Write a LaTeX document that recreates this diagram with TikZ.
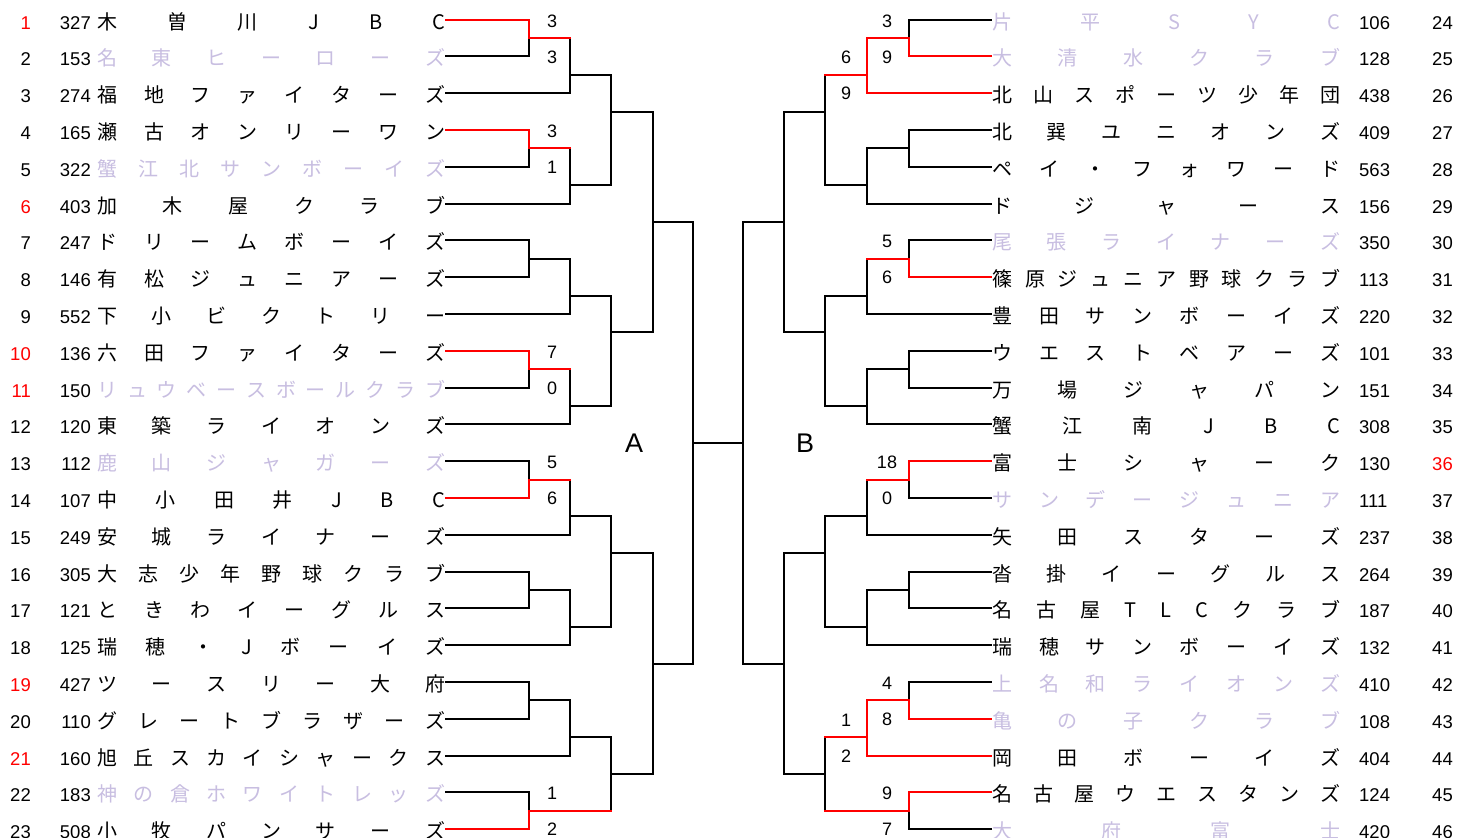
\documentclass[tikz,border=0pt]{standalone}
\usepackage{fontspec}
\setmainfont{Liberation Sans}
\newfontfamily\jp{Noto Sans CJK JP}
\definecolor{lav}{RGB}{200,190,225}
\definecolor{winred}{RGB}{255,0,0}
\makeatletter
\def\spr@loop#1{\ifx#1\@nil\else\hfill#1\expandafter\spr@loop\fi}
\def\spr@first#1{#1\spr@loop}
\newcommand\spreadname[1]{\spr@first#1\@nil}
\makeatother
\tikzset{
 ln/.style={line width=2pt, black, line cap=rect},
 win/.style={line width=2pt, winred, line cap=rect},
 idx/.style={inner sep=0pt, font=\fontsize{18.5}{20}\selectfont},
 tname/.style={inner sep=0pt, font=\jp\fontsize{20}{24}\selectfont},
 score/.style={inner sep=0pt, font=\fontsize{18}{20}\selectfont},
 side/.style={inner sep=0pt, font=\fontsize{27}{30}\selectfont},
}
% left team: row, index colour, code, name, name colour
\newcommand\teamL[5]{%
  \node[idx, text=#2, anchor=base east] (iL#1) at (31,{Y(#1)+9.5}) {#1};
  \node[idx, anchor=base east] (cL#1) at (91,{Y(#1)+9.5}) {#3};
  \node[tname, text=#5, anchor=base west] (nL#1) at (97,{Y(#1)+9.5}) {\makebox[348pt]{\spreadname{#4}}};
  \coordinate (tL#1) at (446,{Y(#1)});
}
% right team: local row, number, index colour, code, name, name colour
\newcommand\teamR[6]{%
  \node[tname, text=#6, anchor=base west] (nR#2) at (992,{Y(#1)+9.5}) {\makebox[348pt]{\spreadname{#5}}};
  \node[idx, anchor=base west] (cR#2) at (1359,{Y(#1)+9.5}) {#4};
  \node[idx, text=#3, anchor=base east] (iR#2) at (1453,{Y(#1)+9.5}) {#2};
  \coordinate (tR#2) at (991,{Y(#1)});
}
\begin{document}
\begin{tikzpicture}[x=1pt,y=-1pt, declare function={Y(\r)=19.5+36.8*(\r-1);}]
\useasboundingbox (0,0) rectangle (1457,838);
\fill[white] (0,0) rectangle (1457,838);

\teamL{1}{winred}{327}{木曽川JBC}{black}
\teamL{2}{black}{153}{名東ヒーローズ}{lav}
\teamL{3}{black}{274}{福地ファイターズ}{black}
\teamL{4}{black}{165}{瀬古オンリーワン}{black}
\teamL{5}{black}{322}{蟹江北サンボーイズ}{lav}
\teamL{6}{winred}{403}{加木屋クラブ}{black}
\teamL{7}{black}{247}{ドリームボーイズ}{black}
\teamL{8}{black}{146}{有松ジュニアーズ}{black}
\teamL{9}{black}{552}{下小ビクトリー}{black}
\teamL{10}{winred}{136}{六田ファイターズ}{black}
\teamL{11}{winred}{150}{リュウベースボールクラブ}{lav}
\teamL{12}{black}{120}{東築ライオンズ}{black}
\teamL{13}{black}{112}{鹿山ジャガーズ}{lav}
\teamL{14}{black}{107}{中小田井JBC}{black}
\teamL{15}{black}{249}{安城ライナーズ}{black}
\teamL{16}{black}{305}{大志少年野球クラブ}{black}
\teamL{17}{black}{121}{ときわイーグルス}{black}
\teamL{18}{black}{125}{瑞穂・Jボーイズ}{black}
\teamL{19}{winred}{427}{ツースリー大府}{black}
\teamL{20}{black}{110}{グレートブラザーズ}{black}
\teamL{21}{winred}{160}{旭丘スカイシャークス}{black}
\teamL{22}{black}{183}{神の倉ホワイトレッズ}{lav}
\teamL{23}{black}{508}{小牧パンサーズ}{black}

\teamR{1}{24}{black}{106}{片平SYC}{lav}
\teamR{2}{25}{black}{128}{大清水クラブ}{lav}
\teamR{3}{26}{black}{438}{北山スポーツ少年団}{black}
\teamR{4}{27}{black}{409}{北巽ユニオンズ}{black}
\teamR{5}{28}{black}{563}{ペイ・フォワード}{black}
\teamR{6}{29}{black}{156}{ドジャース}{black}
\teamR{7}{30}{black}{350}{尾張ライナーズ}{lav}
\teamR{8}{31}{black}{113}{篠原ジュニア野球クラブ}{black}
\teamR{9}{32}{black}{220}{豊田サンボーイズ}{black}
\teamR{10}{33}{black}{101}{ウエストベアーズ}{black}
\teamR{11}{34}{black}{151}{万場ジャパン}{black}
\teamR{12}{35}{black}{308}{蟹江南JBC}{black}
\teamR{13}{36}{winred}{130}{富士シャーク}{black}
\teamR{14}{37}{black}{111}{サンデージュニア}{lav}
\teamR{15}{38}{black}{237}{矢田スターズ}{black}
\teamR{16}{39}{black}{264}{沓掛イーグルス}{black}
\teamR{17}{40}{black}{187}{名古屋TLCクラブ}{black}
\teamR{18}{41}{black}{132}{瑞穂サンボーイズ}{black}
\teamR{19}{42}{black}{410}{上名和ライオンズ}{lav}
\teamR{20}{43}{black}{108}{亀の子クラブ}{lav}
\teamR{21}{44}{black}{404}{岡田ボーイズ}{black}
\teamR{22}{45}{black}{124}{名古屋ウエスタンズ}{black}
\teamR{23}{46}{black}{420}{大府富士}{lav}

% left junctions
\coordinate (jL1) at (528.5,{Y(1.5)});
\coordinate (jL2) at (569.5,{Y(2.5)});
\coordinate (jL3) at (528.5,{Y(4.5)});
\coordinate (jL4) at (569.5,{Y(5.5)});
\coordinate (jL5) at (611,{Y(3.5)});
\coordinate (jL6) at (528.5,{Y(7.5)});
\coordinate (jL7) at (569.5,{Y(8.5)});
\coordinate (jL8) at (528.5,{Y(10.5)});
\coordinate (jL9) at (569.5,{Y(11.5)});
\coordinate (jL10) at (611,{Y(9.5)});
\coordinate (jL11) at (652.5,{Y(6.5)});
\coordinate (jL12) at (528.5,{Y(13.5)});
\coordinate (jL13) at (569.5,{Y(14.5)});
\coordinate (jL14) at (528.5,{Y(16.5)});
\coordinate (jL15) at (569.5,{Y(17.5)});
\coordinate (jL16) at (611,{Y(15.5)});
\coordinate (jL17) at (528.5,{Y(19.5)});
\coordinate (jL18) at (569.5,{Y(20.5)});
\coordinate (jL19) at (528.5,{Y(22.5)});
\coordinate (jL20) at (611,{Y(21.5)});
\coordinate (jL21) at (652.5,{Y(18.5)});
\coordinate (jC) at (693,{Y(12.5)});
\coordinate (jD) at (743,{Y(12.5)});
% right junctions
\coordinate (jR1) at (908.5,{Y(1.5)});
\coordinate (jR2) at (866.5,{Y(2.5)});
\coordinate (jR3) at (908.5,{Y(4.5)});
\coordinate (jR4) at (866.5,{Y(5.5)});
\coordinate (jR5) at (825,{Y(3.5)});
\coordinate (jR6) at (908.5,{Y(7.5)});
\coordinate (jR7) at (866.5,{Y(8.5)});
\coordinate (jR8) at (908.5,{Y(10.5)});
\coordinate (jR9) at (866.5,{Y(11.5)});
\coordinate (jR10) at (825,{Y(9.5)});
\coordinate (jR11) at (783.5,{Y(6.5)});
\coordinate (jR12) at (908.5,{Y(13.5)});
\coordinate (jR13) at (866.5,{Y(14.5)});
\coordinate (jR14) at (908.5,{Y(16.5)});
\coordinate (jR15) at (866.5,{Y(17.5)});
\coordinate (jR16) at (825,{Y(15.5)});
\coordinate (jR17) at (908.5,{Y(19.5)});
\coordinate (jR18) at (866.5,{Y(20.5)});
\coordinate (jR19) at (908.5,{Y(22.5)});
\coordinate (jR20) at (825,{Y(21.5)});
\coordinate (jR21) at (783.5,{Y(18.5)});

% black bracket, A side
\draw[ln] (tL1) -| (jL1) (tL2) -| (jL1) (jL1) -| (jL2) (tL3) -| (jL2) (jL2) -| (jL5)
          (tL4) -| (jL3) (tL5) -| (jL3) (jL3) -| (jL4) (tL6) -| (jL4) (jL4) -| (jL5) (jL5) -| (jL11)
          (tL7) -| (jL6) (tL8) -| (jL6) (jL6) -| (jL7) (tL9) -| (jL7) (jL7) -| (jL10)
          (tL10) -| (jL8) (tL11) -| (jL8) (jL8) -| (jL9) (tL12) -| (jL9) (jL9) -| (jL10) (jL10) -| (jL11)
          (jL11) -| (jC)
          (tL13) -| (jL12) (tL14) -| (jL12) (jL12) -| (jL13) (tL15) -| (jL13) (jL13) -| (jL16)
          (tL16) -| (jL14) (tL17) -| (jL14) (jL14) -| (jL15) (tL18) -| (jL15) (jL15) -| (jL16) (jL16) -| (jL21)
          (tL19) -| (jL17) (tL20) -| (jL17) (jL17) -| (jL18) (tL21) -| (jL18) (jL18) -| (jL20)
          (tL22) -| (jL19) (tL23) -| (jL19) (jL19) -| (jL20) (jL20) -| (jL21) (jL21) -| (jC)
          (jC) -- (jD);
% black bracket, B side
\draw[ln] (tR24) -| (jR1) (tR25) -| (jR1) (jR1) -| (jR2) (tR26) -| (jR2) (jR2) -| (jR5)
          (tR27) -| (jR3) (tR28) -| (jR3) (jR3) -| (jR4) (tR29) -| (jR4) (jR4) -| (jR5) (jR5) -| (jR11)
          (tR30) -| (jR6) (tR31) -| (jR6) (jR6) -| (jR7) (tR32) -| (jR7) (jR7) -| (jR10)
          (tR33) -| (jR8) (tR34) -| (jR8) (jR8) -| (jR9) (tR35) -| (jR9) (jR9) -| (jR10) (jR10) -| (jR11)
          (jR11) -| (jD)
          (tR36) -| (jR12) (tR37) -| (jR12) (jR12) -| (jR13) (tR38) -| (jR13) (jR13) -| (jR16)
          (tR39) -| (jR14) (tR40) -| (jR14) (jR14) -| (jR15) (tR41) -| (jR15) (jR15) -| (jR16) (jR16) -| (jR21)
          (tR42) -| (jR17) (tR43) -| (jR17) (jR17) -| (jR18) (tR44) -| (jR18) (jR18) -| (jR20)
          (tR45) -| (jR19) (tR46) -| (jR19) (jR19) -| (jR20) (jR20) -| (jR21) (jR21) -| (jD);
% winners in red
\draw[win] (tL1) -| (jL1) (jL1) -- (jL1 -| jL2)
           (tL4) -| (jL3) (jL3) -- (jL3 -| jL4)
           (tL10) -| (jL8) (jL8) -- (jL8 -| jL9)
           (tL14) -| (jL12) (jL12) -- (jL12 -| jL13)
           (tL23) -| (jL19) (jL19) -- (jL19 -| jL20);
\draw[win] (tR25) -| (jR1) (jR1) -| (jR2) (tR26) -| (jR2) (jR2) -- (jR2 -| jR5)
           (tR31) -| (jR6) (jR6) -- (jR6 -| jR7)
           (tR36) -| (jR12) (jR12) -- (jR12 -| jR13)
           (tR43) -| (jR17) (jR17) -| (jR18) (tR44) -| (jR18) (jR18) -- (jR18 -| jR20)
           (tR45) -| (jR19) (jR19) -- (jR19 -| jR20);

% scores
\node[score] (s1) at (552,{Y(1.5)-17}) {3};
\node[score] (s2) at (552,{Y(1.5)+19}) {3};
\node[score] (s3) at (552,{Y(4.5)-17}) {3};
\node[score] (s4) at (552,{Y(4.5)+19}) {1};
\node[score] (s5) at (552,{Y(10.5)-17}) {7};
\node[score] (s6) at (552,{Y(10.5)+19}) {0};
\node[score] (s7) at (552,{Y(13.5)-17}) {5};
\node[score] (s8) at (552,{Y(13.5)+19}) {6};
\node[score] (s9) at (552,{Y(22.5)-17}) {1};
\node[score] (s10) at (552,{Y(22.5)+19}) {2};
\node[score] (s11) at (887,{Y(1.5)-17}) {3};
\node[score] (s12) at (887,{Y(1.5)+19}) {9};
\node[score] (s13) at (846,{Y(2.5)-17}) {6};
\node[score] (s14) at (846,{Y(2.5)+19}) {9};
\node[score] (s15) at (887,{Y(7.5)-17}) {5};
\node[score] (s16) at (887,{Y(7.5)+19}) {6};
\node[score] (s17) at (887,{Y(13.5)-17}) {18};
\node[score] (s18) at (887,{Y(13.5)+19}) {0};
\node[score] (s19) at (887,{Y(19.5)-17}) {4};
\node[score] (s20) at (887,{Y(19.5)+19}) {8};
\node[score] (s21) at (846,{Y(20.5)-17}) {1};
\node[score] (s22) at (846,{Y(20.5)+19}) {2};
\node[score] (s23) at (887,{Y(22.5)-17}) {9};
\node[score] (s24) at (887,{Y(22.5)+19}) {7};

% block labels
\node[side] (labA) at (634,443) {A};
\node[side] (labB) at (805,443) {B};
\end{tikzpicture}
\end{document}
